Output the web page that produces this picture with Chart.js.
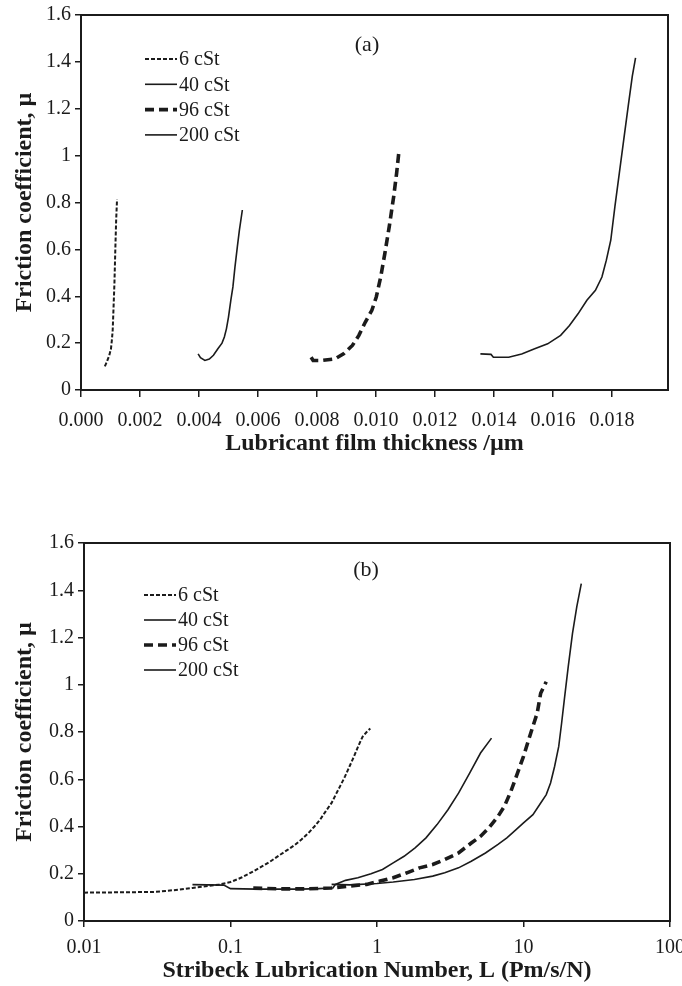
<!DOCTYPE html>
<html>
<head>
<meta charset="utf-8">
<script src="https://cdn.jsdelivr.net/npm/chart.js@4.4.0/dist/chart.umd.min.js"></script>
<style>
  html, body { margin: 0; padding: 0; background: #fff; }
  .panel { position: absolute; left: 0; width: 682px; height: 493px; }
  #wrapA { top: 0; }
  #wrapB { top: 493px; }
</style>
</head>
<body>
<div class="panel" id="wrapA"><canvas id="chartA"></canvas></div>
<div class="panel" id="wrapB"><canvas id="chartB"></canvas></div>
<script>
// series names
const oils = ['6 cSt', '40 cSt', '96 cSt', '200 cSt'];

// (a) film thickness (um) vs friction coefficient
const thick6 = [0.000809, 0.000868, 0.000957, 0.001016, 0.001045, 0.001074, 0.001104, 0.001133, 0.001163, 0.001192, 0.001222];
const fricA6 = [0.101, 0.118, 0.147, 0.176, 0.211, 0.254, 0.354, 0.454, 0.597, 0.725, 0.814];
const thick40 = [0.00397, 0.00405, 0.0042, 0.00435, 0.00449, 0.00464, 0.00478, 0.00486, 0.00493, 0.005, 0.00508, 0.00515, 0.00522, 0.0053, 0.00537, 0.00547];
const fricA40 = [0.154, 0.138, 0.126, 0.132, 0.148, 0.176, 0.2, 0.226, 0.261, 0.311, 0.383, 0.44, 0.525, 0.611, 0.682, 0.768];
const thick96 = [0.0078, 0.00787, 0.00817, 0.00861, 0.0089, 0.0092, 0.00942, 0.00964, 0.00986, 0.01001, 0.01016, 0.0103, 0.01045, 0.0106, 0.0107, 0.01077];
const fricA96 = [0.14, 0.126, 0.126, 0.133, 0.154, 0.19, 0.233, 0.29, 0.34, 0.397, 0.482, 0.582, 0.697, 0.825, 0.925, 1.008];
const thick200 = [0.01354, 0.0139, 0.01398, 0.0145, 0.01494, 0.01538, 0.01582, 0.01626, 0.01656, 0.01685, 0.01715, 0.01744, 0.01766, 0.01781, 0.01796, 0.0181, 0.01825, 0.0184, 0.01855, 0.01869, 0.0188];
const fricA200 = [0.154, 0.152, 0.14, 0.14, 0.154, 0.176, 0.197, 0.233, 0.275, 0.325, 0.383, 0.425, 0.482, 0.554, 0.639, 0.782, 0.925, 1.068, 1.21, 1.339, 1.417];

// (b) Stribeck number vs friction coefficient
const strib6 = [0.01, 0.015, 0.021, 0.03, 0.036, 0.045, 0.055, 0.065, 0.082, 0.1, 0.12, 0.143, 0.165, 0.188, 0.215, 0.248, 0.275, 0.305, 0.34, 0.374, 0.41, 0.445, 0.49, 0.528, 0.565, 0.605, 0.65, 0.695, 0.745, 0.797, 0.85, 0.9];
const fricB6 = [0.12, 0.121, 0.122, 0.123, 0.127, 0.133, 0.14, 0.146, 0.153, 0.165, 0.185, 0.21, 0.232, 0.253, 0.278, 0.303, 0.322, 0.345, 0.372, 0.4, 0.43, 0.463, 0.5, 0.54, 0.575, 0.612, 0.655, 0.695, 0.74, 0.78, 0.8, 0.815];
const strib40 = [0.055, 0.07, 0.09, 0.1, 0.15, 0.2, 0.3, 0.4, 0.5, 0.52, 0.61, 0.74, 0.91, 1.09, 1.29, 1.53, 1.82, 2.16, 2.57, 3.05, 3.61, 4.29, 5.09, 6.05];
const fricB40 = [0.154, 0.153, 0.152, 0.137, 0.135, 0.135, 0.135, 0.137, 0.14, 0.155, 0.172, 0.183, 0.2, 0.218, 0.246, 0.274, 0.31, 0.352, 0.408, 0.471, 0.542, 0.626, 0.711, 0.774];
const strib96 = [0.143, 0.22, 0.33, 0.49, 0.65, 0.85, 1.05, 1.29, 1.6, 1.95, 2.4, 2.9, 3.6, 4.4, 5.1, 5.8, 6.7, 7.4, 8.2, 9.1, 10.0, 11.2, 12.4, 13.1, 14.3];
const fricB96 = [0.139, 0.136, 0.136, 0.14, 0.148, 0.155, 0.169, 0.183, 0.204, 0.225, 0.239, 0.26, 0.288, 0.33, 0.359, 0.394, 0.443, 0.485, 0.549, 0.626, 0.697, 0.795, 0.88, 0.964, 1.013];
const strib200 = [0.49, 0.65, 1.0, 1.29, 1.8, 2.4, 2.9, 3.6, 4.4, 5.5, 6.7, 7.7, 8.9, 10, 11.6, 12.9, 14.3, 15.3, 16.3, 17.4, 18.2, 19.1, 20.2, 21.6, 23.1, 24.8];
const fricB200 = [0.155, 0.153, 0.159, 0.165, 0.176, 0.19, 0.204, 0.225, 0.253, 0.288, 0.324, 0.352, 0.387, 0.415, 0.45, 0.493, 0.535, 0.584, 0.654, 0.739, 0.837, 0.95, 1.077, 1.217, 1.33, 1.428];

// tick labels for the log axis
const stribTicks = [0.01, 0.1, 1, 10, 100];
const stribTickLabels = ['0.01', '0.1', '1', '10', '100'];

const ink = '#1b1b1b';
const serif = "'Liberation Serif', 'Times New Roman', serif";
const lineStyles = [
    { dash: [4, 2], width: 2 },
    { dash: [], width: 1.6 },
    { dash: [9, 5], width: 3.6 },
    { dash: [], width: 1.6 }
];

function pairs(xs, ys) {
    return xs.map((x, i) => ({ x: x, y: ys[i] }));
}

function makeDatasets(xsList, ysList) {
    return oils.map((name, i) => ({
        label: name,
        data: pairs(xsList[i], ysList[i]),
        showLine: true,
        borderColor: ink,
        borderWidth: lineStyles[i].width,
        borderDash: lineStyles[i].dash,
        pointRadius: 0,
        tension: 0
    }));
}

// box round the plot, panel tag and the little legend inside the plot
const framePlugin = {
    id: 'frame',
    afterDatasetsDraw(chart, args, opts) {
        const { ctx, chartArea: a } = chart;
        ctx.save();
        ctx.strokeStyle = ink;
        ctx.lineWidth = 2;
        ctx.setLineDash([]);
        ctx.strokeRect(a.left, a.top, a.right - a.left, a.bottom - a.top);

        ctx.fillStyle = ink;
        ctx.font = '22px ' + serif;
        ctx.textAlign = 'center';
        ctx.textBaseline = 'middle';
        ctx.fillText(opts.tag, a.left + opts.tagX, a.top + opts.tagY);

        ctx.font = '20px ' + serif;
        ctx.textAlign = 'left';
        chart.data.datasets.forEach((ds, i) => {
            const y = a.top + opts.legendY + i * opts.legendGap;
            const x0 = a.left + opts.legendX;
            ctx.beginPath();
            ctx.lineWidth = ds.borderWidth;
            ctx.setLineDash(ds.borderDash);
            ctx.moveTo(x0, y);
            ctx.lineTo(x0 + 32, y);
            ctx.stroke();
            ctx.setLineDash([]);
            ctx.fillText(ds.label, x0 + 34, y + 1);
        });
        ctx.restore();
    }
};

function axisCommon(tickLen) {
    return {
        grid: { drawOnChartArea: false, drawTicks: true, tickLength: tickLen, color: ink, lineWidth: 1.5 },
        border: { color: ink, width: 2 }
    };
}

function yAxis(width) {
    return Object.assign(axisCommon(6), {
        min: 0,
        max: 1.6,
        ticks: {
            stepSize: 0.2,
            color: ink,
            padding: 4,
            font: { family: serif, size: 20 },
            callback: v => String(+v.toFixed(1))
        },
        title: {
            display: true,
            text: 'Friction coefficient, µ',
            color: ink,
            font: { family: serif, size: 24, weight: 'bold' },
            padding: { top: 10, bottom: 0 }
        },
        afterFit: s => { s.width = width; s.paddingTop = 0; s.paddingBottom = 0; }
    });
}

// (a)
new Chart(document.getElementById('chartA'), {
    type: 'scatter',
    data: { datasets: makeDatasets([thick6, thick40, thick96, thick200], [fricA6, fricA40, fricA96, fricA200]) },
    options: {
        responsive: true,
        maintainAspectRatio: false,
        animation: false,
        layout: { padding: { top: 15, right: 14, left: 0, bottom: 0 } },
        plugins: {
            legend: { display: false },
            tooltip: { enabled: false },
            frame: { tag: '(a)', tagX: 286, tagY: 30, legendX: 64, legendY: 44, legendGap: 25.3 }
        },
        scales: {
            x: Object.assign(axisCommon(7), {
                type: 'linear',
                min: 0,
                max: 0.0199,
                ticks: {
                    stepSize: 0.002,
                    includeBounds: false,
                    color: ink,
                    padding: 12,
                    font: { family: serif, size: 20 },
                    maxRotation: 0,
                    callback: v => v.toFixed(3)
                },
                title: {
                    display: true,
                    text: 'Lubricant film thickness /µm',
                    color: ink,
                    font: { family: serif, size: 24, weight: 'bold' },
                    padding: { top: 0, bottom: 35 }
                },
                afterFit: s => { s.height = 103; s.paddingLeft = 0; s.paddingRight = 0; }
            }),
            y: yAxis(81)
        }
    },
    plugins: [framePlugin]
});

// (b)
new Chart(document.getElementById('chartB'), {
    type: 'scatter',
    data: { datasets: makeDatasets([strib6, strib40, strib96, strib200], [fricB6, fricB40, fricB96, fricB200]) },
    options: {
        responsive: true,
        maintainAspectRatio: false,
        animation: false,
        layout: { padding: { top: 50, right: 12, left: 0, bottom: 0 } },
        plugins: {
            legend: { display: false },
            tooltip: { enabled: false },
            frame: { tag: '(b)', tagX: 282, tagY: 27, legendX: 60, legendY: 52, legendGap: 25 }
        },
        scales: {
            x: Object.assign(axisCommon(6), {
                type: 'logarithmic',
                min: 0.01,
                max: 100,
                afterBuildTicks: s => { s.ticks = stribTicks.map(v => ({ value: v })); },
                ticks: {
                    color: ink,
                    padding: 9,
                    font: { family: serif, size: 20 },
                    maxRotation: 0,
                    autoSkip: false,
                    callback: (v, i) => stribTickLabels[i]
                },
                title: {
                    display: true,
                    text: 'Stribeck Lubrication Number, L (Pm/s/N)',
                    color: ink,
                    font: { family: serif, size: 24, weight: 'bold' },
                    padding: { top: 0, bottom: 1 }
                },
                afterFit: s => { s.height = 65; s.paddingLeft = 0; s.paddingRight = 0; }
            }),
            y: yAxis(84)
        }
    },
    plugins: [framePlugin]
});
</script>
</body>
</html>
